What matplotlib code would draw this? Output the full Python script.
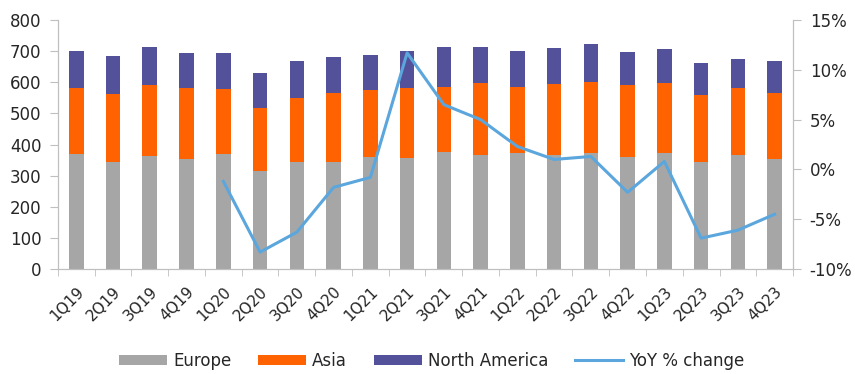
import numpy as np
import matplotlib.pyplot as plt
from matplotlib.ticker import FuncFormatter, FixedLocator
from matplotlib.transforms import ScaledTranslation

plt.rcParams['font.family'] = ['DejaVu Sans']

quarters = ["1Q19", "2Q19", "3Q19", "4Q19", "1Q20", "2Q20", "3Q20", "4Q20",
            "1Q21", "2Q21", "3Q21", "4Q21", "1Q22", "2Q22", "3Q22", "4Q22",
            "1Q23", "2Q23", "3Q23", "4Q23"]
europe = [371, 345, 363, 355, 369, 315, 345, 345, 359, 357,
          376, 367, 374, 365, 372, 359, 374, 343, 367, 353]
asia = [209, 217, 227, 228, 209, 203, 204, 219, 215, 223,
        210, 232, 212, 228, 230, 233, 225, 215, 213, 211]
north_america = [122, 123, 123, 112, 115, 111, 120, 117, 114, 122,
                 126, 115, 116, 117, 121, 106, 109, 104, 96, 103]
# YoY % change, available from 1Q20 onwards
yoy = [-1.2, -8.3, -6.3, -1.8, -0.8, 11.7, 6.5, 5.0, 2.3, 1.0,
       1.3, -2.3, 0.8, -6.9, -6.1, -4.5]

grey = "#A6A6A6"
orange = "#FF6200"
purple = "#525199"
blue = "#5BA6DC"
axis_col = "#BFBFBF"
txt = "#262626"

x = np.arange(len(quarters))
eu = np.array(europe)
asi = np.array(asia)
na = np.array(north_america)

fig = plt.figure(figsize=(8.55, 3.74), dpi=100)
ax = fig.add_axes([0.0678, 0.2807, 0.8597, 0.6658])
w = 0.4
b1 = ax.bar(x, eu, w, color=grey, label="Europe")
b2 = ax.bar(x, asi, w, bottom=eu, color=orange, label="Asia")
b3 = ax.bar(x, na, w, bottom=eu + asi, color=purple, label="North America")

ax.set_xlim(-0.5, len(quarters) - 0.5)
ax.set_ylim(0, 800)
ax.set_yticks(np.arange(0, 801, 100))

ax2 = ax.twinx()
l1, = ax2.plot(x[4:], yoy, color=blue, lw=2.2, label="YoY % change")
ax2.set_ylim(-10, 15)
ax2.set_yticks(np.arange(-10, 16, 5))
ax2.yaxis.set_major_formatter(FuncFormatter(lambda v, p: f"{v:.0f}%"))

for a in (ax, ax2):
    a.spines["top"].set_visible(False)
    for s in ("left", "right", "bottom"):
        a.spines[s].set_color(axis_col)
    a.tick_params(axis="y", colors=axis_col, labelcolor=txt, labelsize=12, length=6)

ax.set_xticks(x)
ax.set_xticklabels(quarters, rotation=45, ha="right", rotation_mode="anchor",
                   fontsize=11, color=txt)
# nudge the slanted quarter labels a little to the right
shift = ScaledTranslation(5 / 72, 0, fig.dpi_scale_trans)
for lab in ax.get_xticklabels():
    lab.set_transform(lab.get_transform() + shift)
ax.tick_params(axis="x", which="major", length=0, pad=11)
ax.xaxis.set_minor_locator(FixedLocator(np.arange(-0.5, len(quarters), 1)))
ax.tick_params(axis="x", which="minor", length=5, color=axis_col)
ax.tick_params(axis="y", pad=6)
ax2.tick_params(axis="y", pad=6)

fig.legend([b1, b2, b3, l1], ["Europe", "Asia", "North America", "YoY % change"],
           loc="center", bbox_to_anchor=(0.505, 0.035), ncol=4, frameon=False,
           fontsize=12, handlelength=2.9, handleheight=0.55, handletextpad=0.35,
           columnspacing=1.6, labelcolor=txt)

fig.savefig("out.png", dpi=100)
